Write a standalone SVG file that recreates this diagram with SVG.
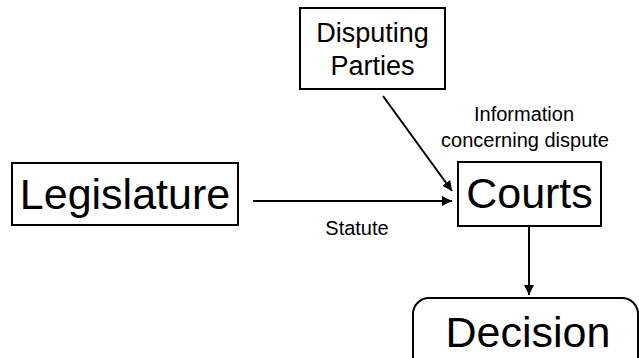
<svg xmlns="http://www.w3.org/2000/svg" width="639" height="358" viewBox="0 0 639 358">
<style>
.box{fill:#fff;stroke:#000;stroke-width:2}
.big{font-family:"Liberation Sans",Arial,sans-serif;font-size:43px;fill:#000;text-anchor:middle}
.mid{font-family:"Liberation Sans",Arial,sans-serif;font-size:27px;fill:#000;text-anchor:middle}
.lbl{font-family:"Liberation Sans",Arial,sans-serif;font-size:20px;fill:#000;text-anchor:middle}
.edge{fill:none;stroke:#000;stroke-width:2;marker-end:url(#ah)}
</style>
<defs>
<marker id="ah" viewBox="0 0 10 10" refX="10" refY="5" markerWidth="5" markerHeight="5" orient="auto" markerUnits="strokeWidth">
<path d="M0,0 L10,5 L0,10 Z" fill="#000"/>
</marker>
</defs>
<rect width="639" height="358" fill="#fff"/>
<g id="connectors">
<line class="edge" x1="253" y1="201" x2="452" y2="201"/>
<line class="edge" x1="383" y1="96" x2="452" y2="191"/>
<line class="edge" x1="529" y1="227" x2="529" y2="295"/>
<text class="lbl" x="357" y="235">Statute</text>
<text class="lbl" x="524" y="121">Information</text>
<text class="lbl" x="525" y="147">concerning dispute</text>
</g>
<g id="disputing-parties">
<rect class="box" x="300" y="8" width="145" height="81"/>
<text class="mid" x="372.5" y="42">Disputing</text>
<text class="mid" x="372.5" y="75">Parties</text>
</g>
<g id="legislature">
<rect class="box" x="12" y="163" width="226" height="62"/>
<text class="big" x="125" y="209">Legislature</text>
</g>
<g id="courts">
<rect class="box" x="458" y="162" width="143" height="64"/>
<text class="big" x="529.5" y="208">Courts</text>
</g>
<g id="decision">
<rect class="box" x="413" y="298" width="225" height="80" rx="16" ry="16"/>
<text class="big" x="528" y="347">Decision</text>
</g>
</svg>
